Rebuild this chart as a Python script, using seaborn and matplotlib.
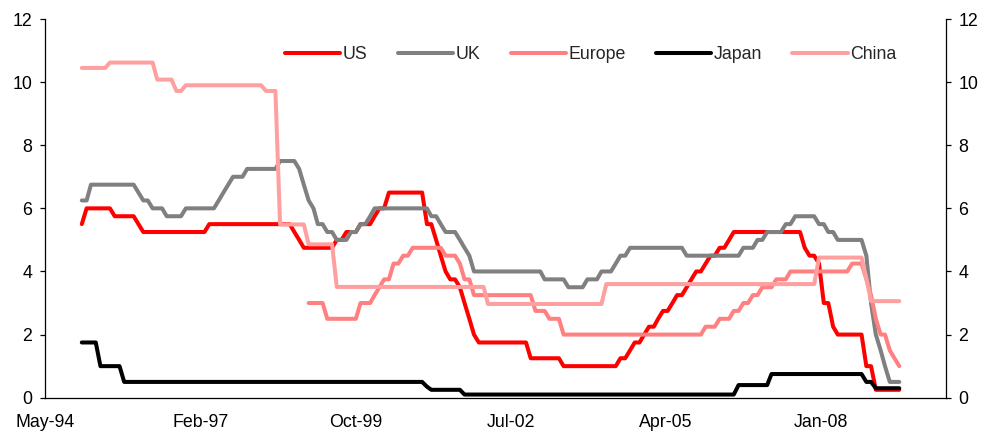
import matplotlib
matplotlib.use("Agg")
import matplotlib.pyplot as plt
import matplotlib.dates as mdates
import numpy as np
import pandas as pd
import seaborn as sns

# ---- Data: policy rates, one value per month (Jan-95 .. Jun-09) ----
# each series is written as levels with the number of months spent at each level
months = pd.date_range("1995-01-01", "2009-06-01", freq="MS")

us_levels = [5.5, 6.0, 5.75, 5.5, 5.25, 5.5, 5.25, 5.0, 4.75, 5.0, 5.25, 5.5, 5.75, 6.0,
             6.5, 5.5, 5.0, 4.5, 4.0, 3.75, 3.5, 3.0, 2.5, 2.0, 1.75, 1.25, 1.0, 1.25,
             1.5, 1.75, 2.0, 2.25, 2.5, 2.75, 3.0, 3.25, 3.5, 3.75, 4.0, 4.25, 4.5, 4.75,
             5.0, 5.25, 4.75, 4.5, 4.25, 3.0, 2.25, 2.0, 1.0, 0.25]
us_runs = [1, 6, 5, 1, 14, 18, 1, 1, 7, 2, 3, 3, 1, 2,
           8, 2, 1, 1, 1, 2, 1, 1, 1, 1, 11, 7, 12, 2,
           1, 2, 1, 2, 1, 2, 1, 2, 1, 1, 2, 1, 2, 2,
           1, 15, 1, 2, 1, 2, 1, 6, 2, 6]

uk_levels = [6.25, 6.75, 6.5, 6.25, 6.0, 5.75, 6.0, 6.25, 6.5, 6.75, 7.0, 7.25, 7.5, 7.25,
             6.75, 6.25, 6.0, 5.5, 5.25, 5.0, 5.25, 5.5, 5.75, 6.0, 5.75, 5.5, 5.25, 5.0,
             4.75, 4.5, 4.0, 3.75, 3.5, 3.75, 4.0, 4.25, 4.5, 4.75, 4.5, 4.75, 5.0, 5.25,
             5.5, 5.75, 5.5, 5.25, 5.0, 4.5, 3.0, 2.0, 1.5, 1.0, 0.5]
uk_runs = [2, 10, 1, 2, 3, 4, 7, 1, 1, 1, 3, 7, 4, 1,
           1, 1, 1, 2, 2, 3, 2, 2, 1, 12, 2, 1, 3, 1,
           1, 1, 15, 5, 4, 3, 3, 1, 2, 12, 12, 3, 2, 4,
           2, 5, 2, 2, 6, 1, 1, 1, 1, 1, 3]

europe_levels = [np.nan, 3.0, 2.5, 3.0, 3.25, 3.5, 3.75, 4.25, 4.5, 4.75, 4.5, 4.25, 3.75,
                 3.25, 2.75, 2.5, 2.0, 2.25, 2.5, 2.75, 3.0, 3.25, 3.5, 3.75, 4.0, 4.25,
                 3.75, 3.25, 2.5, 2.0, 1.5, 1.25, 1.0]
europe_runs = [48, 4, 7, 3, 1, 1, 2, 2, 2, 7, 3, 1, 2,
               13, 3, 3, 30, 3, 3, 2, 2, 2, 3, 3, 13, 3,
               1, 1, 1, 2, 1, 1, 1]

japan_levels = [1.75, 1.0, 0.5, 0.35, 0.25, 0.1, 0.4, 0.75, 0.5, 0.3]
japan_runs = [4, 5, 64, 1, 7, 58, 7, 20, 2, 6]

china_levels = [10.45, 10.62, 10.08, 9.72, 9.9, 9.72, 5.49, 4.86, 3.51, 2.97, 3.6, 4.44, 3.78, 3.06]
china_runs = [6, 10, 4, 2, 17, 3, 6, 6, 32, 25, 45, 10, 1, 7]

regions = ["US", "UK", "Europe", "Japan", "China"]
colors = ["#FF0000", "#808080", "#FF8080", "#000000", "#FFA0A0"]

wide = pd.DataFrame({
    "date": months,
    "US": np.repeat(us_levels, us_runs),
    "UK": np.repeat(uk_levels, uk_runs),
    "Europe": np.repeat(europe_levels, europe_runs),
    "Japan": np.repeat(japan_levels, japan_runs),
    "China": np.repeat(china_levels, china_runs),
})
df = wide.melt(id_vars="date", var_name="region", value_name="rate").dropna()

# ---- Plot ----
sns.set_style("white")
plt.rcParams["font.family"] = ["Liberation Sans", "DejaVu Sans"]

fig = plt.figure(figsize=(9.89, 4.34), dpi=100)
ax = fig.add_axes([45 / 989, 1 - 397.7 / 434, 900.7 / 989, 378.7 / 434])

sns.lineplot(
    data=df,
    x="date",
    y="rate",
    hue="region",
    hue_order=regions,
    palette=colors,
    estimator=None,
    sort=False,
    linewidth=2.9,
    solid_capstyle="round",
    solid_joinstyle="round",
    ax=ax,
)

start = pd.Timestamp("1994-05-09")
ax.set_xlim(start, start + pd.Timedelta(days=5801))
ax.set_xticks([start + pd.Timedelta(days=1000 * k) for k in range(6)])
ax.xaxis.set_major_formatter(mdates.DateFormatter("%b-%y"))
ax.set_ylim(0, 12)
ax.set_yticks(range(0, 13, 2))
ax.set_xlabel("")
ax.set_ylabel("")

ax2 = ax.twinx()
ax2.set_ylim(0, 12)
ax2.set_yticks(range(0, 13, 2))

for s in ["top", "right"]:
    ax.spines[s].set_visible(False)
for s in ["top", "left", "bottom"]:
    ax2.spines[s].set_visible(False)
for a in (ax, ax2):
    for sp in a.spines.values():
        sp.set_color("black")
        sp.set_linewidth(0.9)
    a.tick_params(direction="out", length=3.8, width=0.9, colors="black",
                  labelsize=12.8, pad=5.5)
ax.tick_params(axis="x", pad=8)

handles, labels = ax.get_legend_handles_labels()
ax.legend(
    handles, labels,
    ncol=5,
    loc="center",
    bbox_to_anchor=(0.606, 0.905),
    frameon=False,
    fontsize=12.8,
    handlelength=3.1,
    handletextpad=0.15,
    columnspacing=1.7,
)

plt.savefig("out.png", dpi=100)
plt.close()
